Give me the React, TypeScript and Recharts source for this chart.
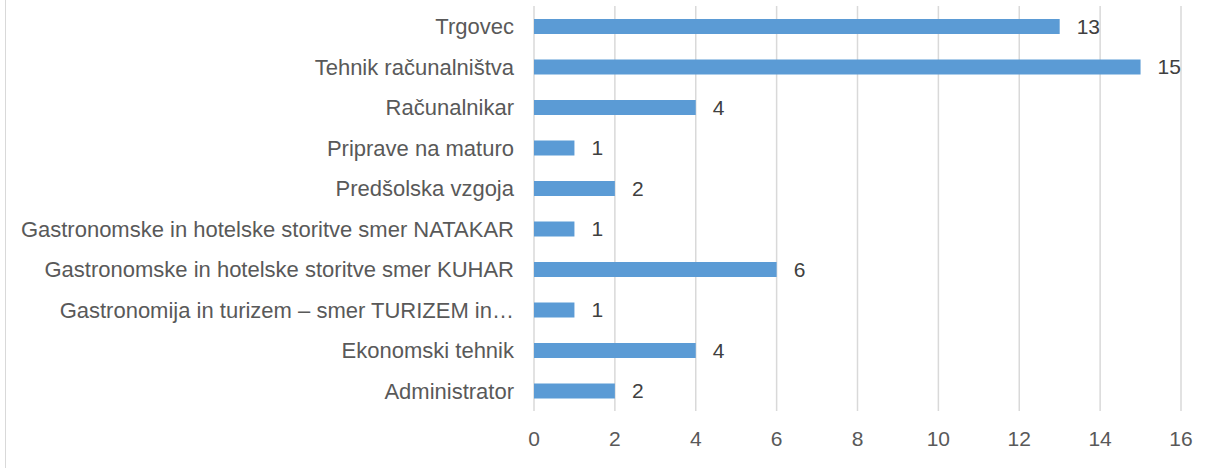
import { Bar, BarChart, CartesianGrid, LabelList, XAxis, YAxis } from "recharts";

const programs = [
  "Trgovec",
  "Tehnik računalništva",
  "Računalnikar",
  "Priprave na maturo",
  "Predšolska vzgoja",
  "Gastronomske in hotelske storitve smer NATAKAR",
  "Gastronomske in hotelske storitve smer KUHAR",
  "Gastronomija in turizem – smer TURIZEM in…",
  "Ekonomski tehnik",
  "Administrator",
];

const counts = [13, 15, 4, 1, 2, 1, 6, 1, 4, 2];

const xTicks = [0, 2, 4, 6, 8, 10, 12, 14, 16];

const data = programs.map((name, i) => ({ name, value: counts[i] }));

const font = "'Liberation Sans', Arial, sans-serif";

const App = () => {
  return (
    <div
      style={{
        position: "absolute",
        left: 0,
        top: 0,
        width: 1208,
        height: 468,
        background: "#fff",
        fontFamily: font,
      }}
    >
      <div
        style={{
          position: "absolute",
          left: 5,
          top: 0,
          width: 0,
          height: 468,
          borderLeft: "1.5px solid #d9d9d9",
        }}
      />
      <BarChart
        width={1208}
        height={468}
        data={data}
        layout="vertical"
        margin={{ top: 6, right: 27, bottom: 27, left: 0 }}
        barSize={15}
      >
        <CartesianGrid horizontal={false} stroke="#d9d9d9" strokeWidth={1.5} />
        <XAxis
          type="number"
          domain={[0, 16]}
          ticks={xTicks}
          axisLine={false}
          tickLine={false}
          tickSize={0}
          tickMargin={20}
          height={30}
          tick={{ fill: "#595959", fontSize: 21, fontFamily: font }}
        />
        <YAxis
          type="category"
          dataKey="name"
          width={534}
          axisLine={false}
          tickLine={false}
          tickSize={0}
          tickMargin={20}
          interval={0}
          tick={{ fill: "#595959", fontSize: 22, fontFamily: font }}
        />
        <Bar dataKey="value" fill="#5b9bd5" isAnimationActive={false}>
          <LabelList
            dataKey="value"
            position="right"
            offset={17}
            fill="#404040"
            fontSize={21}
            fontFamily={font}
          />
        </Bar>
      </BarChart>
    </div>
  );
};

export default App;
